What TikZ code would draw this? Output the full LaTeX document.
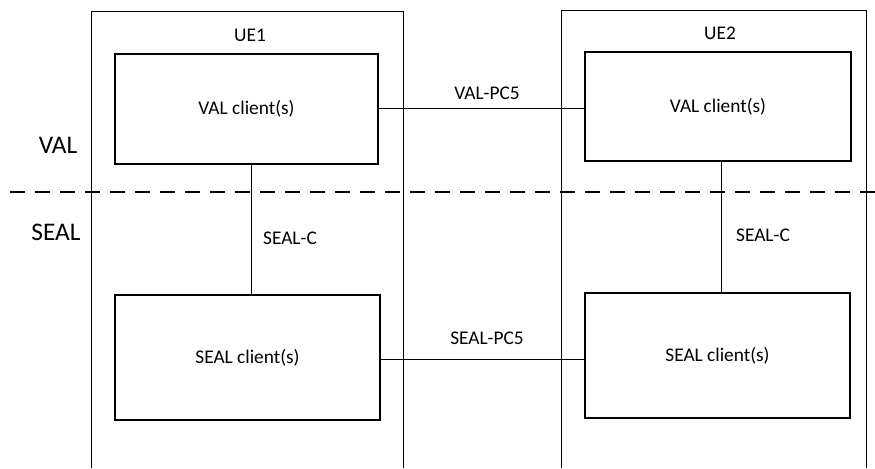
\documentclass[tikz,border=0pt]{standalone}
\usepackage{fontspec}
\setmainfont{Carlito}
\begin{document}
\begin{tikzpicture}[x=0.75pt,y=-0.75pt,
  line width=0.75pt,
  clientbox/.style={draw, line width=0.8pt, inner sep=0pt, font=\fontsize{14.5}{17}\selectfont},
  lbl/.style={inner sep=0pt, font=\fontsize{14.5}{17}\selectfont},
  biglbl/.style={inner sep=0pt, font=\fontsize{19}{22}\selectfont},
  layerline/.style={dash pattern=on 11.25pt off 7.5pt, line width=0.9pt}]
\useasboundingbox (0,0) rectangle (875,468);
% UE outer boxes (open at the bottom edge)
\draw (91,468) -- (91,11) -- (403,11) -- (403,468);
\draw (561,468) -- (561,10) -- (866,10) -- (866,468);
\node[lbl] (ue1) at (250,35) {UE1};
\node[lbl] (ue2) at (720,33) {UE2};
% client boxes
\node[clientbox, minimum width=197.25pt, minimum height=82.5pt] (val1) at (246.5,109) {VAL client(s)};
\node[clientbox, minimum width=199.5pt, minimum height=81.75pt] (val2) at (718,106.5) {VAL client(s)};
\node[clientbox, minimum width=198.75pt, minimum height=93.75pt] (seal1) at (247.5,357.5) {SEAL client(s)};
\node[clientbox, minimum width=198.75pt, minimum height=93.75pt] (seal2) at (717.5,355.5) {SEAL client(s)};
% connectors
\draw ([yshift=0.75pt]val1.east) -- ([yshift=0.75pt]val1.east -| val2.west);
\draw ([yshift=-1.2pt]seal1.east) -- ([yshift=-1.2pt]seal1.east -| seal2.west);
\draw ([xshift=3.4pt]val1.south) -- ([xshift=3.4pt]val1.south |- seal1.north);
\draw ([xshift=2.25pt]val2.south) -- ([xshift=2.25pt]val2.south |- seal2.north);
\node[lbl] (vpc5) at (487,93) {VAL-PC5};
\node[lbl] (spc5) at (487,338) {SEAL-PC5};
\node[lbl] (sc1) at (290,238) {SEAL-C};
\node[lbl] (sc2) at (763,235) {SEAL-C};
% layer separator
\coordinate (dl) at (10,192);
\coordinate (dr) at (875,192);
\draw[layerline] (dl) -- (dr);
\node[biglbl] (vallayer) at (58,145) {VAL};
\node[biglbl] (seallayer) at (56,232) {SEAL};
\end{tikzpicture}
\end{document}
